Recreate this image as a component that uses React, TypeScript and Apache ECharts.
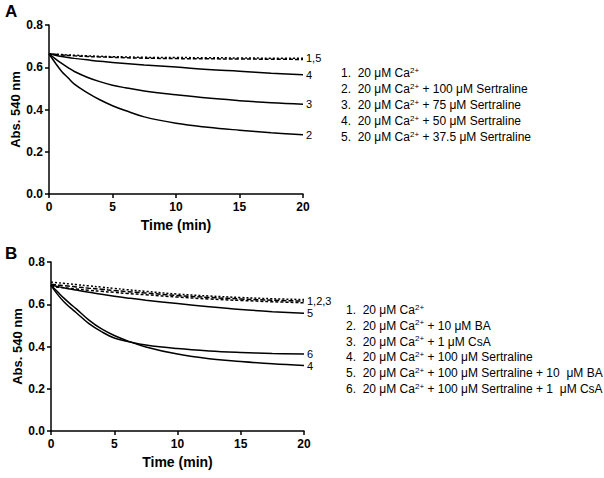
import React, { useEffect, useRef } from 'react';
import * as echarts from 'echarts';

// time points (min)
const timeA = [0, 0.5, 1, 1.5, 2, 3, 4, 5, 6, 7.5, 10, 12.5, 15, 17.5, 20];
const timeB = [0, 0.5, 1, 1.5, 2, 3, 4, 5, 6, 7.5, 10, 12.5, 15, 17.5, 20];

// Panel A
const a1 = [0.664, 0.662, 0.66, 0.658, 0.657, 0.654, 0.652, 0.65, 0.649, 0.647, 0.646, 0.645, 0.644, 0.643, 0.643];
const a2 = [0.664, 0.62, 0.58, 0.55, 0.52, 0.48, 0.446, 0.418, 0.395, 0.365, 0.335, 0.316, 0.302, 0.29, 0.28];
const a3 = [0.664, 0.64, 0.618, 0.598, 0.58, 0.553, 0.532, 0.515, 0.503, 0.488, 0.47, 0.454, 0.442, 0.432, 0.425];
const a4 = [0.664, 0.657, 0.651, 0.646, 0.642, 0.635, 0.628, 0.623, 0.618, 0.611, 0.601, 0.589, 0.581, 0.572, 0.564];
const a5 = [0.664, 0.661, 0.658, 0.656, 0.654, 0.651, 0.649, 0.647, 0.645, 0.643, 0.641, 0.64, 0.639, 0.638, 0.637];

// Panel B
const b1 = [0.705, 0.702, 0.699, 0.696, 0.693, 0.687, 0.681, 0.675, 0.669, 0.661, 0.648, 0.639, 0.632, 0.626, 0.622];
const b2 = [0.695, 0.692, 0.688, 0.685, 0.682, 0.676, 0.671, 0.665, 0.66, 0.653, 0.641, 0.632, 0.625, 0.619, 0.615];
const b3 = [0.685, 0.681, 0.678, 0.675, 0.672, 0.666, 0.661, 0.656, 0.651, 0.645, 0.634, 0.625, 0.618, 0.612, 0.607];
const b4 = [0.69, 0.66, 0.63, 0.603, 0.578, 0.525, 0.483, 0.452, 0.428, 0.398, 0.364, 0.342, 0.329, 0.318, 0.31];
const b5 = [0.69, 0.684, 0.678, 0.672, 0.667, 0.657, 0.647, 0.638, 0.63, 0.619, 0.603, 0.588, 0.575, 0.565, 0.557];
const b6 = [0.69, 0.648, 0.613, 0.585, 0.56, 0.508, 0.47, 0.44, 0.425, 0.407, 0.39, 0.379, 0.372, 0.367, 0.364];

const legendA = [
  ['1.', '', ''],
  ['2.', ' + 100 ', ' Sertraline'],
  ['3.', ' + 75 ', ' Sertraline'],
  ['4.', ' + 50 ', ' Sertraline'],
  ['5.', ' + 37.5 ', ' Sertraline'],
];
const legendB = [
  ['1.', '', ''],
  ['2.', ' + 10 ', ' BA'],
  ['3.', ' + 1 ', ' CsA'],
  ['4.', ' + 100 ', ' Sertraline'],
  ['5.', ' + 100 ', ' Sertraline + 10  μM BA'],
  ['6.', ' + 100 ', ' Sertraline + 1  μM CsA'],
];

const FONT = 'Arial, "Liberation Sans", Helvetica, sans-serif';

function pairs(t: number[], v: number[]) {
  return t.map((x, i) => [x, v[i]]);
}

function legendText(row: string[]) {
  const [n, mid, tail] = row;
  let s = `${n}  20 μM Ca{sup|2+}`;
  if (mid) s += `${mid}μM${tail}`;
  return s;
}

export default function App() {
  const ref = useRef<HTMLDivElement>(null);
  useEffect(() => {
    if (!ref.current) return;
    const chart = echarts.init(ref.current, undefined, { renderer: 'svg' });
    const axisLine = { lineStyle: { color: '#000', width: 1.5 } };
    const axisTick = { length: 4, lineStyle: { color: '#000', width: 1.5 } };
    const axisLabelStyle = { color: '#000', fontFamily: FONT, fontWeight: 'bold' as const, fontSize: 12 };
    const mkX = (gi: number) => ({
      type: 'value', gridIndex: gi, min: 0, max: 20, interval: 5,
      axisLine, axisTick, splitLine: { show: false },
      axisLabel: { ...axisLabelStyle, margin: 7 },
      name: 'Time (min)', nameLocation: 'middle', nameGap: 24,
      nameTextStyle: { color: '#000', fontFamily: FONT, fontWeight: 'bold', fontSize: 14 },
    });
    const mkY = (gi: number) => ({
      type: 'value', gridIndex: gi, min: 0, max: 0.8, interval: 0.2,
      axisLine: { ...axisLine, show: true }, axisTick: { ...axisTick, show: true }, splitLine: { show: false },
      axisLabel: { ...axisLabelStyle, margin: 6, formatter: (v: number) => v.toFixed(1) },
      name: 'Abs. 540 nm', nameLocation: 'middle', nameGap: 27, nameRotate: 90,
      nameTextStyle: { color: '#000', fontFamily: FONT, fontWeight: 'bold', fontSize: 13 },
    });
    const endLabel = (txt: string) => ({
      show: true, formatter: txt, distance: 3, color: '#000',
      fontFamily: FONT, fontSize: 11,
    });
    const line = (gi: number, data: number[][], type: any, lbl?: string, width = 1.5) => ({
      type: 'line', xAxisIndex: gi, yAxisIndex: gi, data, smooth: 0.4,
      showSymbol: false, symbol: 'none', silent: true,
      lineStyle: { color: '#000', width, type },
      endLabel: lbl ? endLabel(lbl) : { show: false },
    });
    const legendGraphics = (rows: string[][], x: number, y0: number, dy: number) =>
      rows.map((r, i) => ({
        type: 'text', left: x, top: y0 + i * dy,
        style: {
          text: legendText(r), fill: '#000', font: `12px ${FONT}`,
          rich: {
            sup: { fontSize: 8, fontFamily: FONT, fill: '#000', padding: [0, 0, 6, 0] },
          },
        },
      }));
    chart.setOption({
      animation: false,
      backgroundColor: '#fff',
      grid: [
        { left: 49, top: 25, right: 301, bottom: 284, containLabel: false },
        { left: 51, top: 262, right: 300, bottom: 47, containLabel: false },
      ],
      xAxis: [mkX(0), mkX(1)],
      yAxis: [mkY(0), mkY(1)],
      series: [
        line(0, pairs(timeA, a5), [4, 2]),
        line(0, pairs(timeA, a1), [2, 2], '1,5'),
        line(0, pairs(timeA, a4), 'solid', '4'),
        line(0, pairs(timeA, a3), 'solid', '3'),
        line(0, pairs(timeA, a2), 'solid', '2'),
        line(1, pairs(timeB, b1), [2, 2]),
        line(1, pairs(timeB, b2), [5, 2], '1,2,3'),
        line(1, pairs(timeB, b3), [3, 2]),
        line(1, pairs(timeB, b5), 'solid', '5'),
        line(1, pairs(timeB, b6), 'solid', '6'),
        line(1, pairs(timeB, b4), 'solid', '4'),
      ],
      graphic: [
        { type: 'text', left: 5, top: 3, style: { text: 'A', fill: '#000', font: `bold 17px ${FONT}` } },
        { type: 'text', left: 5, top: 245, style: { text: 'B', fill: '#000', font: `bold 17px ${FONT}` } },
        ...legendGraphics(legendA, 341, 66, 16),
        ...legendGraphics(legendB, 346, 303, 15.8),
      ],
    });
    return () => chart.dispose();
  }, []);
  return <div ref={ref} style={{ position: 'fixed', left: 0, top: 0, width: 604, height: 478 }} />;
}
